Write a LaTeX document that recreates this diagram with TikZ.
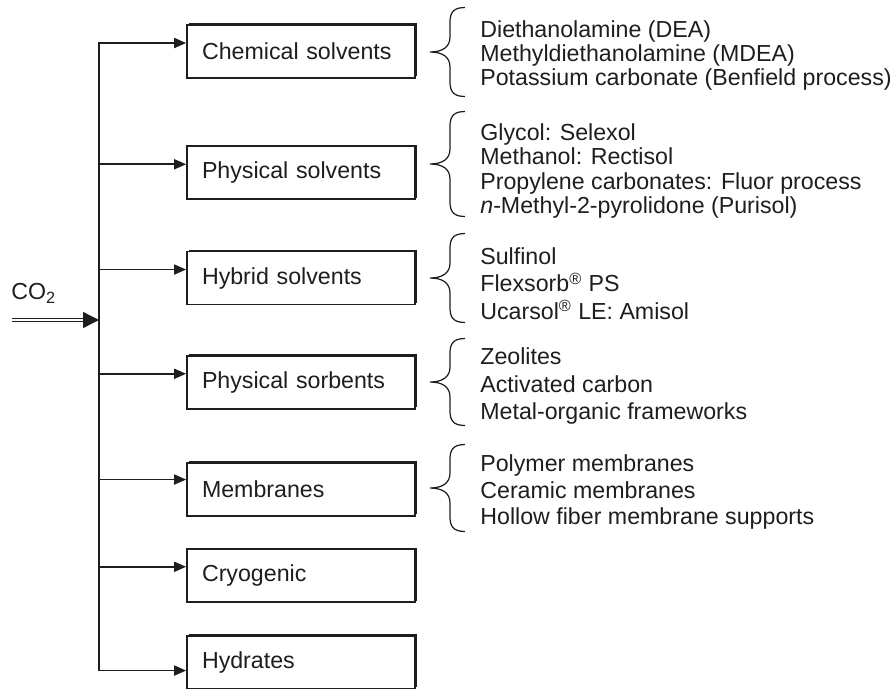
\documentclass[tikz,border=0pt]{standalone}
\usepackage{fontspec}
\setmainfont{Liberation Sans}
\usepackage{tikz}
\usetikzlibrary{arrows.meta, positioning, shadows}
\definecolor{inkgray}{RGB}{30,30,30}
\tikzset{
  methodbox/.style={draw=inkgray, line width=1pt, fill=white, minimum height=1.06cm,
      minimum width=4.56cm, text width=3.96cm, inner xsep=0.3cm, align=left,
      font=\fontsize{13.2}{15}\selectfont, text=inkgray,
      drop shadow={shadow xshift=0.9pt, shadow yshift=0.9pt, opacity=1, fill=inkgray}},
  listtext/.style={anchor=west, align=left, inner sep=0pt, text=inkgray,
      font=\fontsize{13.2}{#1}\selectfont},
  myarrow/.style={-{Triangle[length=2.4mm, width=2mm]}, line width=1pt, inkgray},
  mywire/.style={line width=1pt, inkgray, line cap=rect},
  co2line/.style={draw=inkgray, double=white, line width=0.8pt, double distance=1.2pt,
      shorten >=0.3cm},
  bigarrow/.style={-{Triangle[length=0.32cm, width=0.32cm]}, line width=0.8pt, inkgray},
  mylbl/.style={font=\fontsize{13.2}{15}\selectfont, text=inkgray, anchor=west, inner sep=0pt},
  pics/curlybrace/.style={code={
      \draw[line width=0.7pt, inkgray] (0.7,#1) .. controls (0.45,#1) and (0.4,#1-0.12) .. (0.4,#1-0.3)
        -- (0.4,0.3) .. controls (0.4,0.1) and (0.25,0) .. (0,0)
        .. controls (0.25,0) and (0.4,-0.1) .. (0.4,-0.3)
        -- (0.4,-#1+0.3) .. controls (0.4,-#1+0.12) and (0.45,-#1) .. (0.7,-#1);
  }},
}

\begin{document}
\begin{tikzpicture}
  \useasboundingbox (0,0) rectangle (17.84,-13.76);

  % capture routes
  \node[methodbox] (b1) at (6.02,-1.03) {Chemical solvents};
  \node[methodbox, below=1.33cm of b1] (b2) {Physical solvents};
  \node[methodbox, below=1.01cm of b2] (b3) {Hybrid solvents};
  \node[methodbox, below=0.99cm of b3] (b4) {Physical sorbents};
  \node[methodbox, below=1.05cm of b4] (b5) {Membranes};
  \node[methodbox, below=0.63cm of b5] (b6) {Cryogenic};
  \node[methodbox, below=0.64cm of b6] (b7) {Hydrates};

  % examples
  \node[listtext=13.4pt] (t1) at (9.6,-1.11) {Diethanolamine (DEA)\\Methyldiethanolamine (MDEA)\\Potassium carbonate (Benfield process)};
  \node[listtext=13.7pt] (t2) at (9.6,-3.42) {Glycol: Selexol\\Methanol: Rectisol\\Propylene carbonates: Fluor process\\\textit{n}-Methyl-2-pyrolidone (Purisol)};
  \node[listtext=15.6pt] (t3) at (9.6,-5.67) {Sulfinol\\Flexsorb\textsuperscript{®} PS\\Ucarsol\textsuperscript{®} LE: Amisol};
  \node[listtext=15.4pt] (t4) at (9.6,-7.72) {Zeolites\\Activated carbon\\Metal-organic frameworks};
  \node[listtext=15.1pt] (t5) at (9.6,-9.84) {Polymer membranes\\Ceramic membranes\\Hollow fiber membrane supports};

  \pic at ([xshift=-1cm, yshift=0.07cm]t1.west) {curlybrace=0.89};
  \pic at ([xshift=-1cm, yshift=0.14cm]t2.west) {curlybrace=1.05};
  \pic at ([xshift=-1cm, yshift=0.11cm]t3.west) {curlybrace=0.89};
  \pic at ([xshift=-1cm, yshift=0.08cm]t4.west) {curlybrace=0.87};
  \pic at ([xshift=-1cm, yshift=0.08cm]t5.west) {curlybrace=0.87};

  % trunk
  \coordinate (trk) at (1.98,0);
  \coordinate (a1) at ([yshift=0.17cm]b1.west);
  \coordinate (a2) at ([yshift=0.17cm]b2.west);
  \coordinate (a3) at ([yshift=0.17cm]b3.west);
  \coordinate (a4) at ([yshift=0.17cm]b4.west);
  \coordinate (a5) at ([yshift=0.2cm]b5.west);
  \coordinate (a6) at ([yshift=0.18cm]b6.west);
  \coordinate (a7) at ([yshift=-0.16cm]b7.west);
  \draw[mywire] (a1 -| trk) -- (a7 -| trk);
  \draw[myarrow] (a1 -| trk) -- (a1);
  \draw[myarrow] (a2 -| trk) -- (a2);
  \draw[myarrow] (a3 -| trk) -- (a3);
  \draw[myarrow] (a4 -| trk) -- (a4);
  \draw[myarrow] (a5 -| trk) -- (a5);
  \draw[myarrow] (a6 -| trk) -- (a6);
  \draw[myarrow] (a7 -| trk) -- (a7);

  % feed
  \coordinate (in) at (0.24,-6.4);
  \coordinate (jn) at (in -| trk);
  \node[mylbl] (co2) at (0.22,-5.86) {CO\textsubscript{2}};
  \draw[co2line] (in) -- (jn);
  \draw[bigarrow] ([xshift=-0.33cm]jn) -- (jn);
\end{tikzpicture}
\end{document}
